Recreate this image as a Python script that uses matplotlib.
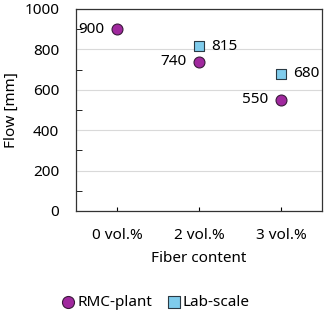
import numpy as np
import matplotlib.pyplot as plt

plt.rcParams['font.family'] = ['Noto Sans', 'DejaVu Sans']

categories = ['0 vol.%', '2 vol.%', '3 vol.%']
rmc_x = [0, 1, 2]
rmc_flow = [900, 740, 550]
lab_x = [1, 2]
lab_flow = [815, 680]

fs = 11

fig = plt.figure(figsize=(3.25, 3.15), dpi=100)
ax = fig.add_axes([76 / 325, 1 - 211 / 315, 246 / 325, 202 / 315])

ax.scatter(rmc_x, rmc_flow, s=62, marker='o', color='#A0289E',
           edgecolor='#3a1a3a', linewidth=0.8, zorder=3, label='RMC-plant')
ax.scatter(lab_x, lab_flow, s=52, marker='s', color='#7FCCEC',
           edgecolor='#2a3a44', linewidth=0.8, zorder=3, label='Lab-scale')

for x, y in zip(rmc_x, rmc_flow):
    ax.annotate(str(y), (x, y), xytext=(-9, 0), textcoords='offset points',
                ha='right', va='center', fontsize=fs)
for x, y in zip(lab_x, lab_flow):
    ax.annotate(str(y), (x, y), xytext=(9, 0), textcoords='offset points',
                ha='left', va='center', fontsize=fs)

ax.set_xlim(-0.5, 2.5)
ax.set_ylim(0, 1000)
ax.set_xticks(rmc_x)
ax.set_xticklabels(categories)
ax.set_yticks(np.arange(0, 1001, 200))
ax.set_yticks(np.arange(100, 1000, 200), minor=True)
ax.tick_params(axis='both', which='both', direction='in', labelsize=fs)
ax.tick_params(axis='x', length=3, pad=12)
ax.tick_params(axis='y', which='major', length=0, pad=12)
ax.tick_params(axis='y', which='minor', length=4)
ax.grid(axis='y', color='#d9d9d9', linewidth=0.8)
ax.set_axisbelow(True)
for s in ax.spines.values():
    s.set_color('#333333')
    s.set_linewidth(0.9)

ax.set_xlabel('Fiber content', fontsize=fs, labelpad=6)
ax.set_ylabel('Flow [mm]', fontsize=fs, labelpad=4)

fig.legend(loc='center', bbox_to_anchor=(0.475, 1 - 303 / 315), ncol=2,
           frameon=False, fontsize=fs, handletextpad=0.0, columnspacing=0.8,
           handlelength=1.2, markerscale=1.1)

fig.savefig('out.png', dpi=100)
